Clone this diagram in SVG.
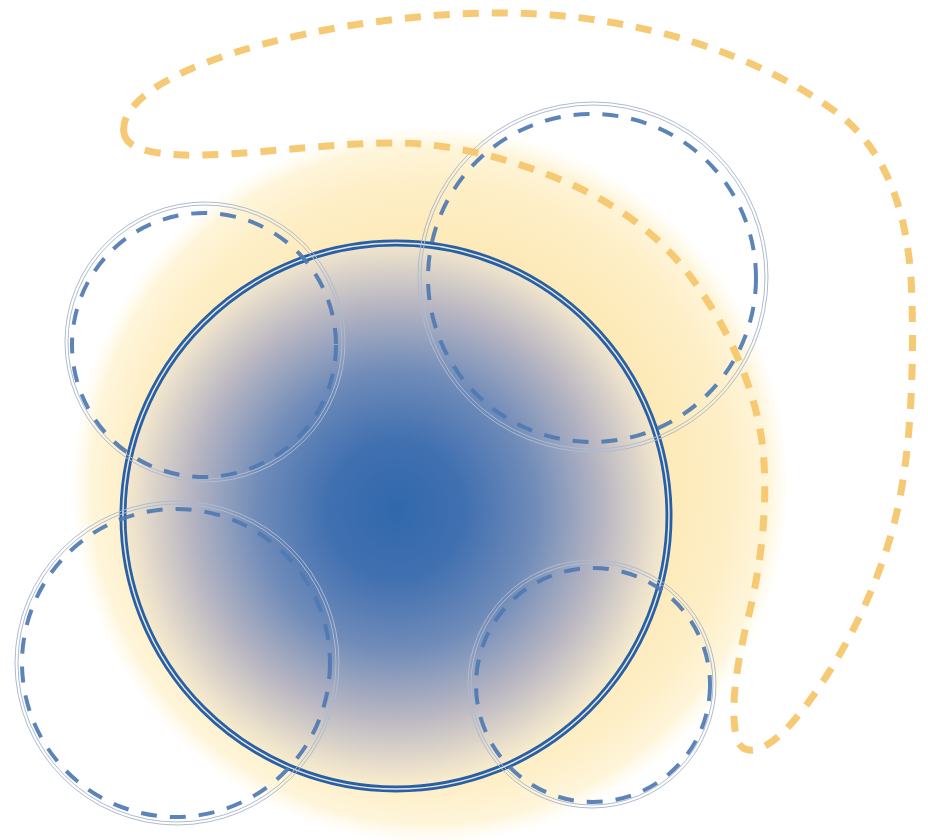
<svg xmlns="http://www.w3.org/2000/svg" width="928" height="840" viewBox="0 0 928 840">
  <defs>
    <radialGradient id="glow" cx="430" cy="485" r="357" gradientUnits="userSpaceOnUse">
      <stop offset="0" stop-color="#fcdf96"/>
      <stop offset="0.6" stop-color="#fde8b2"/>
      <stop offset="0.85" stop-color="#feefc8"/>
      <stop offset="0.95" stop-color="#fef5da"/>
      <stop offset="1" stop-color="#fffaea" stop-opacity="0.2"/>
    </radialGradient>
    <radialGradient id="core" cx="396" cy="510" r="276" gradientUnits="userSpaceOnUse">
      <stop offset="0" stop-color="#3068ad"/>
      <stop offset="0.25" stop-color="#4170b0"/>
      <stop offset="0.5" stop-color="#6f8bb9"/>
      <stop offset="0.75" stop-color="#b8b6c2"/>
      <stop offset="0.92" stop-color="#e6dccb"/>
      <stop offset="1" stop-color="#f9edcc"/>
    </radialGradient>
    <style>
      .ring { fill: none; stroke: #aebbd0; stroke-width: 1; }
      .dash { fill: none; stroke: #4e79b3; stroke-width: 4; stroke-dasharray: 16 13; opacity: 0.92; }
      .mainOuter { fill: url(#core); stroke: #2b5f9f; stroke-width: 7; }
      .mainInner { fill: none; stroke: #ffffff; stroke-width: 1.5; opacity: 0.85; }
      .loop { fill: none; stroke: #f5c469; stroke-width: 7; stroke-dasharray: 16 13; opacity: 0.92; }
    </style>
  </defs>
  <rect width="928" height="840" fill="#ffffff"/>

  <g id="glow-area">
    <circle cx="430" cy="485" r="357" fill="url(#glow)"/>
  </g>

  <g id="main-node">
    <circle class="mainOuter" cx="396" cy="516" r="273"/>
    <circle class="mainInner" cx="396" cy="516" r="273"/>
  </g>

  <g id="node-top-left">
    <circle class="ring" cx="205" cy="342" r="140"/>
    <circle class="ring" cx="205" cy="342" r="137"/>
    <circle class="dash" cx="204" cy="345" r="132"/>
  </g>

  <g id="node-top-right">
    <circle class="ring" cx="593" cy="277" r="175"/>
    <circle class="ring" cx="593" cy="277" r="172"/>
    <circle class="dash" cx="592" cy="278" r="164"/>
  </g>

  <g id="node-bottom-left">
    <circle class="ring" cx="177" cy="663" r="162"/>
    <circle class="ring" cx="177" cy="663" r="159"/>
    <circle class="dash" cx="176" cy="663" r="154"/>
  </g>

  <g id="node-bottom-right">
    <circle class="ring" cx="592" cy="684" r="124"/>
    <circle class="ring" cx="592" cy="684" r="121"/>
    <circle class="dash" cx="593" cy="685" r="117"/>
  </g>

  <g id="connectors">
    <path class="loop" d="M 124,133 C 120,110 150,85 200,65 C 280,33 400,12 510,13 C 640,15 760,55 840,115 C 890,155 910,220 912,300 C 914,380 910,460 895,520 C 875,600 830,680 790,725 C 770,748 745,760 737,740 C 728,705 740,650 750,610 C 762,560 768,500 763,450 C 758,400 735,340 700,290 C 670,245 630,212 577,187 C 525,163 460,144 400,143 C 330,142 240,157 183,155 C 150,154 126,148 124,133 Z"/>
  </g>
</svg>
